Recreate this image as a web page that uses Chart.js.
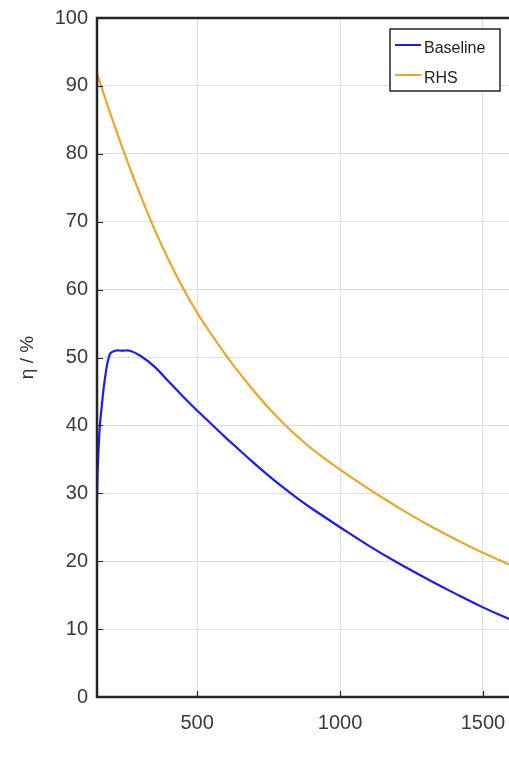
<!DOCTYPE html>
<html>
<head>
<meta charset="utf-8">
<script src="https://cdn.jsdelivr.net/npm/chart.js@4/dist/chart.umd.min.js"></script>
<style>
  html, body { margin: 0; padding: 0; background: #fff; overflow: hidden; }
  #c { display: block; }
</style>
</head>
<body>
<canvas id="c" width="509" height="782"></canvas>
<script>
// x values (speed) and efficiency curves
var baselineX = [150, 152, 155, 160, 167, 178, 195, 213, 240, 265, 300, 350, 400, 450, 500, 550, 600, 650, 700, 750, 800, 850, 900, 950, 1000, 1100, 1200, 1300, 1400, 1500, 1591];
var baselineY = [29, 33, 36, 40, 43, 47, 50.5, 51, 51, 51, 50.3, 48.7, 46.5, 44.3, 42.2, 40.2, 38.2, 36.3, 34.4, 32.6, 30.9, 29.3, 27.8, 26.4, 25, 22.3, 19.8, 17.5, 15.3, 13.2, 11.5];
var rhsX = [150, 200, 250, 300, 350, 400, 450, 500, 550, 600, 650, 700, 750, 800, 850, 900, 950, 1000, 1050, 1100, 1150, 1200, 1250, 1300, 1350, 1400, 1450, 1500, 1550, 1591];
var rhsY = [91.8, 85.5, 79.6, 74.1, 69.0, 64.4, 60.3, 56.6, 53.4, 50.4, 47.6, 45.0, 42.6, 40.4, 38.4, 36.6, 35.0, 33.5, 32.05, 30.65, 29.3, 28.0, 26.75, 25.55, 24.4, 23.3, 22.25, 21.25, 20.3, 19.5];
var xTicks = [500, 1000, 1500];
var seriesNames = ['Baseline', 'RHS'];

var FONT = '"Liberation Sans", Arial, sans-serif';

function toPoints(xs, ys) {
  var pts = [];
  for (var i = 0; i < xs.length; i++) pts.push({ x: xs[i], y: ys[i] });
  return pts;
}

// frame, inner tick marks and the boxed legend, matlab style
var framePlugin = {
  id: 'frame',
  afterDraw: function (chart) {
    var ctx = chart.ctx, a = chart.chartArea;
    var sx = chart.scales.x, sy = chart.scales.y;
    ctx.save();
    ctx.strokeStyle = '#262626';
    ctx.lineWidth = 1.2;
    // inner ticks
    ctx.beginPath();
    sy.ticks.forEach(function (t) {
      var py = Math.round(sy.getPixelForValue(t.value)) + 0.5;
      ctx.moveTo(a.left, py); ctx.lineTo(a.left + 6, py);
    });
    sx.ticks.forEach(function (t) {
      var px = Math.round(sx.getPixelForValue(t.value)) + 0.5;
      ctx.moveTo(px, a.bottom); ctx.lineTo(px, a.bottom - 6);
    });
    ctx.stroke();
    // frame lines
    ctx.lineWidth = 2.5;
    ctx.beginPath();
    ctx.moveTo(chart.width, a.top);
    ctx.lineTo(a.left, a.top);
    ctx.lineTo(a.left, a.bottom);
    ctx.lineTo(chart.width, a.bottom);
    ctx.stroke();

    // legend
    var lx = 390, ly = 29, lw = 110, lh = 62;
    ctx.fillStyle = '#fff';
    ctx.fillRect(lx, ly, lw, lh);
    ctx.lineWidth = 1.5;
    ctx.strokeStyle = '#222';
    ctx.strokeRect(lx, ly, lw, lh);
    ctx.font = '16px ' + FONT;
    ctx.textBaseline = 'middle';
    ctx.textAlign = 'left';
    chart.data.datasets.forEach(function (ds, i) {
      var yy = ly + 17 + i * 30;
      ctx.strokeStyle = ds.borderColor;
      ctx.lineWidth = 2;
      ctx.beginPath();
      ctx.moveTo(lx + 5, yy - 1); ctx.lineTo(lx + 31, yy - 1);
      ctx.stroke();
      ctx.fillStyle = '#222';
      ctx.fillText(ds.label, lx + 34, yy + 3);
    });
    ctx.restore();
  }
};

new Chart(document.getElementById('c'), {
  type: 'line',
  data: {
    datasets: [{
      label: seriesNames[0],
      data: toPoints(baselineX, baselineY),
      borderColor: '#1a1aff',
      borderWidth: 2.2,
      pointRadius: 0,
      tension: 0.4
    }, {
      label: seriesNames[1],
      data: toPoints(rhsX, rhsY),
      borderColor: '#eda52a',
      borderWidth: 2.2,
      pointRadius: 0,
      tension: 0.4
    }]
  },
  options: {
    responsive: false,
    animation: false,
    layout: { padding: { top: 18, right: 0, left: 0, bottom: 0 } },
    plugins: { legend: { display: false }, tooltip: { enabled: false } },
    scales: {
      x: {
        type: 'linear',
        min: 150,
        max: 1591,
        afterBuildTicks: function (scale) {
          scale.ticks = xTicks.map(function (v) { return { value: v }; });
        },
        afterFit: function (scale) {
          scale.height = 85;
          scale.paddingLeft = 0;
          scale.paddingRight = 0;
        },
        grid: { color: '#dedede', lineWidth: 1, drawTicks: false },
        border: { display: false },
        ticks: {
          padding: 14,
          color: '#3a3a3a',
          font: { family: FONT, size: 20 },
          maxRotation: 0,
          callback: function (v) { return String(v); }
        }
      },
      y: {
        min: 0,
        max: 100,
        afterFit: function (scale) {
          scale.width = 97;
          scale.paddingTop = 0;
          scale.paddingBottom = 0;
        },
        grid: { color: '#dedede', lineWidth: 1, drawTicks: false },
        border: { display: false },
        ticks: {
          stepSize: 10,
          padding: 9,
          color: '#3a3a3a',
          font: { family: FONT, size: 20 }
        },
        title: {
          display: true,
          text: 'η / %',
          color: '#333',
          padding: { top: 16, bottom: 0 },
          font: { family: FONT, size: 19 }
        }
      }
    }
  },
  plugins: [framePlugin]
});
</script>
</body>
</html>
